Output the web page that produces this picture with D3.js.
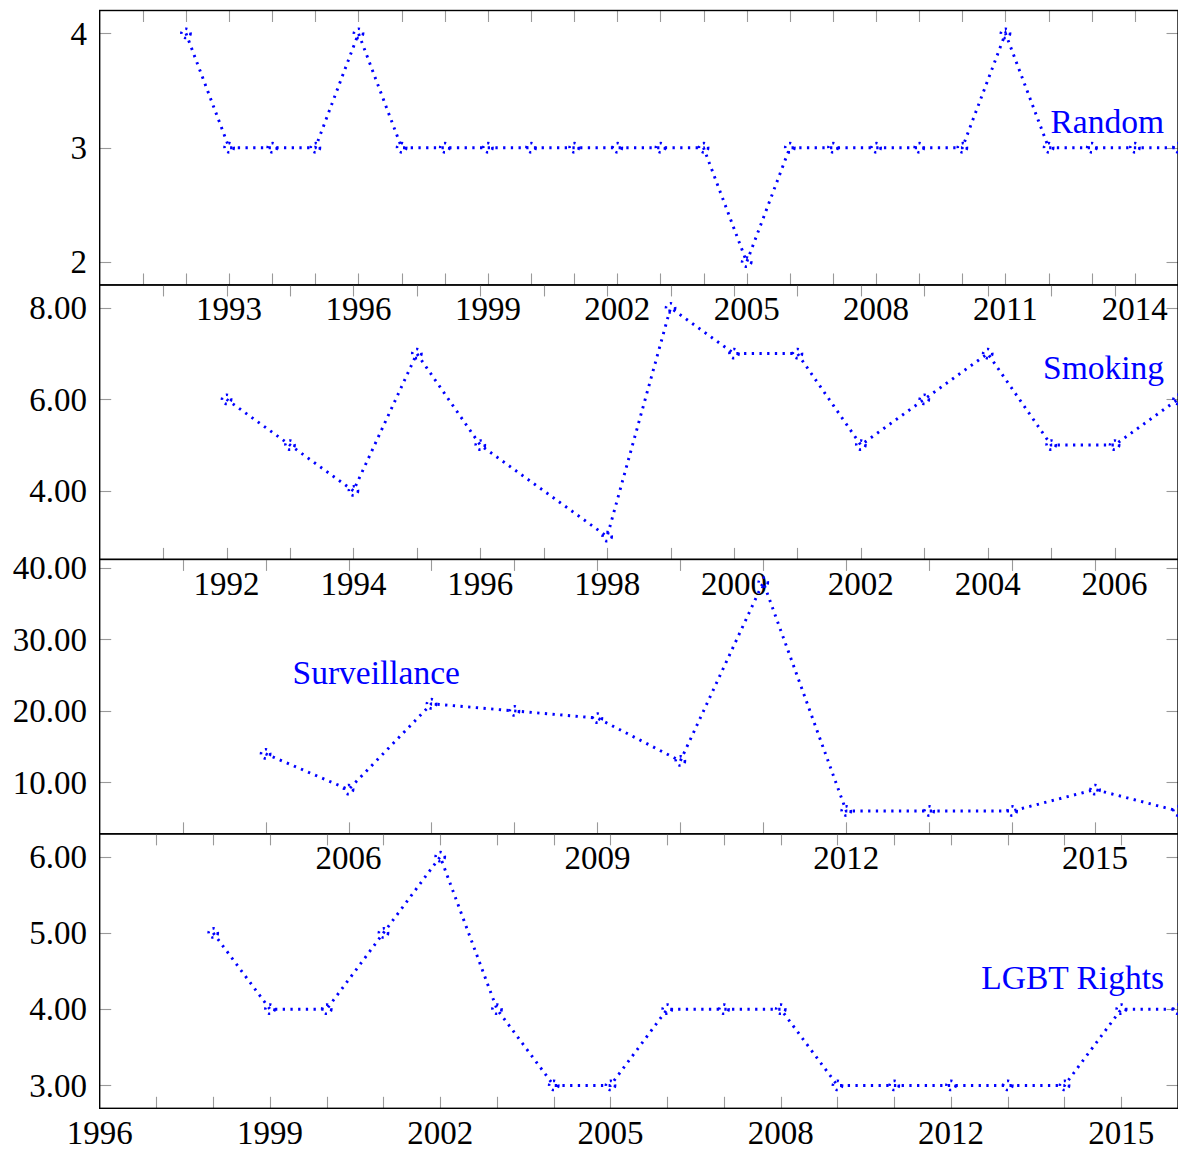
<!DOCTYPE html>
<html>
<head>
<meta charset="utf-8">
<script src="https://cdn.jsdelivr.net/npm/d3@7"></script>
<style>
  html, body { margin: 0; padding: 0; background: #fff; }
  svg { display: block; }
  text { font-family: "Liberation Serif", "Times New Roman", serif; }
</style>
</head>
<body>
<svg id="chart" width="1178" height="1150"></svg>
<script>
// ---- data ----
const randomYears = [1990,1991,1992,1993,1994,1995,1996,1997,1998,1999,2000,2001,2002,2003,2004,2005,2006,2007,2008,2009,2010,2011,2012,2013,2014,2015];
const randomValues = [null,null,4,3,3,3,4,3,3,3,3,3,3,3,3,2,3,3,3,3,3,4,3,3,3,3];
const randomTickLabels = [1993,1996,1999,2002,2005,2008,2011,2014];
const randomYTicks = [2,3,4];

const smokingYears = [1990,1991,1992,1993,1994,1995,1996,1997,1998,1999,2000,2001,2002,2003,2004,2005,2006,2007];
const smokingValues = [null,null,6,5,4,7,5,null,3,8,7,7,5,6,7,5,5,6];
const smokingTickLabels = [1992,1994,1996,1998,2000,2002,2004,2006];
const smokingYTicks = [4,6,8];

const surveillanceYears = [2003,2004,2005,2006,2007,2008,2009,2010,2011,2012,2013,2014,2015,2016];
const surveillanceValues = [null,null,14,9,21,20,19,13,38,6,6,6,9,6];
const surveillanceTickLabels = [2006,2009,2012,2015];
const surveillanceYTicks = [10,20,30,40];

const lgbtYears = [1996,1997,1998,1999,2000,2001,2002,2003,2004,2005,2006,2007,2008,2010,2011,2012,2013,2014,2015,2016];
const lgbtValues = [null,null,5,4,4,5,6,4,3,3,4,4,4,3,3,3,3,3,4,4];
const lgbtTickLabels = [1996,1999,2002,2005,2008,2012,2015];
const lgbtYTicks = [3,4,5,6];

const panels = [
  { name: "Random",       years: randomYears,       values: randomValues,       xLabels: randomTickLabels,       yTicks: randomYTicks,       yDomain: [1.8, 4.2], fmt: d3.format("d"),
    label: { x: 1164, dy: 122.5, anchor: "end" } },
  { name: "Smoking",      years: smokingYears,      values: smokingValues,      xLabels: smokingTickLabels,      yTicks: smokingYTicks,      yDomain: [2.5, 8.5], fmt: d3.format(".2f"),
    label: { x: 1164, dy: 94, anchor: "end" } },
  { name: "Surveillance", years: surveillanceYears, values: surveillanceValues, xLabels: surveillanceTickLabels, yTicks: surveillanceYTicks, yDomain: [2.8, 41.2], fmt: d3.format(".2f"),
    label: { x: 292.5, dy: 124.5, anchor: "start" } },
  { name: "LGBT Rights",  years: lgbtYears,         values: lgbtValues,         xLabels: lgbtTickLabels,         yTicks: lgbtYTicks,         yDomain: [2.7, 6.3], fmt: d3.format(".2f"),
    label: { x: 1164, dy: 155.5, anchor: "end" } }
];

// ---- layout ----
const left = 99.7, right = 1178, top0 = 10.5, panelH = 274.45;
const tickLen = 11.5;
const tickColor = "#9a9a9a";
const lineColor = "#0000ff";
const dash = "2.3,5.4";

const svg = d3.select("#chart");
svg.append("rect").attr("width", 1178).attr("height", 1150).attr("fill", "#fff");

panels.forEach((p, k) => {
  const y0 = top0 + k * panelH, y1 = y0 + panelH;
  const x = d3.scaleLinear().domain([0, p.years.length - 1]).range([left, right]);
  const y = d3.scaleLinear().domain(p.yDomain).range([y1, y0]);
  const g = svg.append("g");

  // year ticks on bottom and top edges
  const xIdx = p.years.map((_, i) => i).filter(i => i > 0 && i < p.years.length - 1);
  const tickG = g.append("g").attr("stroke", tickColor).attr("stroke-width", 1.1);
  xIdx.forEach(i => {
    const xx = Math.round(x(i)) + 0.5;
    tickG.append("line").attr("x1", xx).attr("x2", xx).attr("y1", y1).attr("y2", y1 - tickLen);
    tickG.append("line").attr("x1", xx).attr("x2", xx).attr("y1", y0).attr("y2", y0 + tickLen);
  });
  // value ticks on left and right edges
  p.yTicks.forEach(v => {
    const yy = Math.round(y(v)) + 0.5;
    tickG.append("line").attr("x1", left).attr("x2", left + tickLen).attr("y1", yy).attr("y2", yy);
    tickG.append("line").attr("x1", right).attr("x2", right - tickLen).attr("y1", yy).attr("y2", yy);
  });

  // y tick labels
  g.append("g").selectAll("text").data(p.yTicks).join("text")
    .attr("x", 87).attr("y", d => y(d)).attr("dy", "0.34em")
    .attr("text-anchor", "end").attr("font-size", 33).attr("fill", "#000")
    .text(d => p.fmt(d));

  // x tick labels below the panel
  g.append("g").selectAll("text").data(p.xLabels).join("text")
    .attr("x", d => x(p.years.indexOf(d))).attr("y", y1 + 35.5)
    .attr("text-anchor", "middle").attr("font-size", 33).attr("fill", "#000")
    .text(d => d);

  // frame
  g.append("rect").attr("x", left).attr("y", y0).attr("width", right - left).attr("height", panelH)
    .attr("fill", "none").attr("stroke", "#000").attr("stroke-width", 1.4);

  // series line (missing years are skipped, the line joins the neighbours)
  const pts = p.values.map((v, i) => ({ i, v })).filter(d => d.v !== null);
  const line = d3.line().x(d => x(d.i)).y(d => y(d.v));
  g.append("path").datum(pts).attr("d", line)
    .attr("fill", "none").attr("stroke", lineColor).attr("stroke-width", 2.9)
    .attr("stroke-dasharray", dash).attr("stroke-linejoin", "miter");

  // markers
  g.append("g").selectAll("circle").data(pts).join("circle")
    .attr("cx", d => x(d.i)).attr("cy", d => y(d.v)).attr("r", 4.6)
    .attr("fill", "none").attr("stroke", lineColor).attr("stroke-width", 2.6)
    .attr("stroke-dasharray", "2.2,4.6");

  // series name
  g.append("text").attr("x", p.label.x).attr("y", y0 + p.label.dy)
    .attr("text-anchor", p.label.anchor).attr("font-size", 33.5).attr("fill", lineColor)
    .text(p.name);
});
</script>
</body>
</html>
